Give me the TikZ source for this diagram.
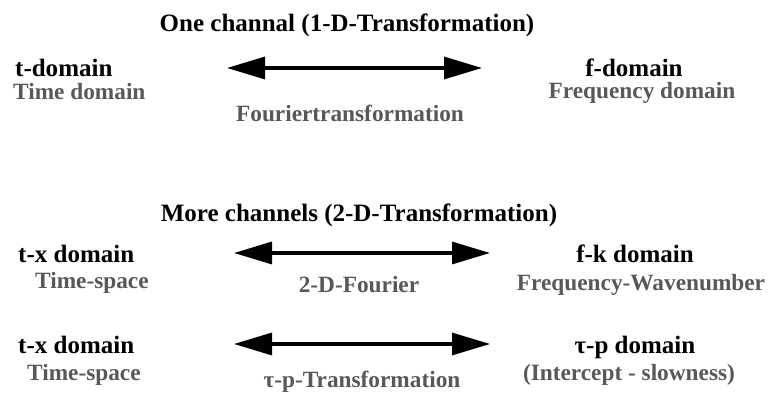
\documentclass[tikz,border=0pt]{standalone}
\usepackage{fontspec}
\setmainfont{Liberation Serif}
\usetikzlibrary{arrows.meta}
\definecolor{descgray}{HTML}{585858}

\tikzset{
  domainlab/.style={inner sep=0pt, font=\fontsize{25}{30}\selectfont\bfseries},
  desclab/.style={inner sep=0pt, text=descgray, font=\fontsize{23.3}{28}\selectfont\bfseries},
  transarrow/.style={line width=3.3pt, {Triangle[length=38pt,width=22pt]}-{Triangle[length=38pt,width=22pt]}}
}

\begin{document}
\begin{tikzpicture}[x=1pt,y=-1pt]
\useasboundingbox (0,0) rectangle (770,403);

% one channel
\node[domainlab,anchor=base](title1) at (347,32){One channal (1-D-Transformation)};
\node[domainlab,anchor=base west](tdom) at (15,77){t-domain};
\node[desclab,anchor=base west](tdesc) at (13,100){Time domain};
\node[domainlab,anchor=base](fdom) at (634,77){f-domain};
\node[desclab,anchor=base](fdesc) at (642,99){Frequency domain};
\node[desclab,anchor=base](ft) at (350,122){Fouriertransformation};
\coordinate (a1l) at (227,68);
\coordinate (a1r) at (482,68);
\draw[transarrow] (a1l) -- (a1r);

% more channels
\node[domainlab,anchor=base](title2) at (359,222){More channels (2-D-Transformation)};
\node[domainlab,anchor=base west](txdom1) at (18,262){t-x domain};
\node[desclab,anchor=base west](txdesc1) at (35,288){Time-space};
\node[domainlab,anchor=base](fkdom) at (635,262){f-k domain};
\node[desclab,anchor=base](fkdesc) at (641,290){Frequency-Wavenumber};
\node[desclab,anchor=base](fk) at (359,292){2-D-Fourier};
\coordinate (a2l) at (234,253);
\coordinate (a2r) at (490,253);
\draw[transarrow] (a2l) -- (a2r);

\node[domainlab,anchor=base west](txdom2) at (18,353){t-x domain};
\node[desclab,anchor=base west](txdesc2) at (27,380){Time-space};
\node[domainlab,anchor=base](taupdom) at (635,353){τ-p domain};
\node[desclab,anchor=base](taupdesc) at (629,380){(Intercept - slowness)};
\node[desclab,anchor=base](taup) at (362,387){τ-p-Transformation};
\coordinate (a3l) at (234,344);
\coordinate (a3r) at (490,344);
\draw[transarrow] (a3l) -- (a3r);
\end{tikzpicture}
\end{document}
